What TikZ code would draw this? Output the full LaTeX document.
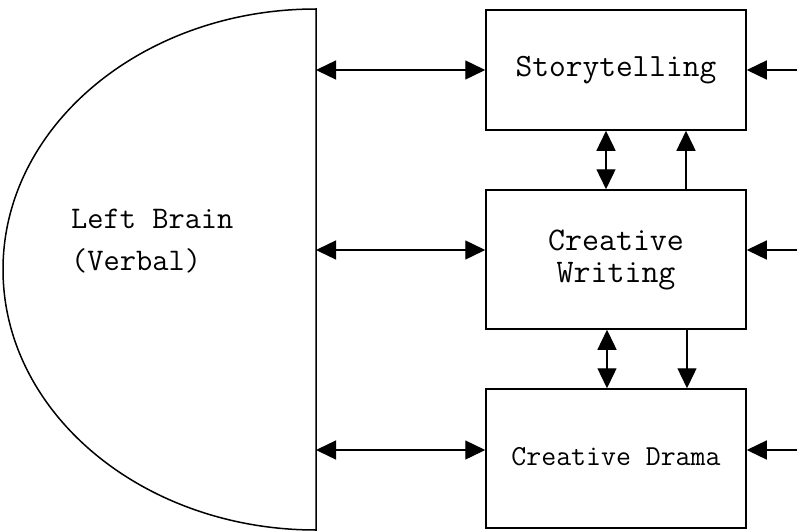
\documentclass[tikz,border=0pt]{standalone}
\usepackage{fontspec}
\usetikzlibrary{arrows.meta}
\begin{document}
\begin{tikzpicture}[x=1pt,y=-1pt,
  box/.style={draw, line width=1.5pt, inner sep=0pt, minimum width=260pt, align=center},
  arr/.style={line width=1.4pt, -{Triangle[length=20pt,width=19pt]}},
  darr/.style={line width=1.4pt, {Triangle[length=20pt,width=19pt]}-{Triangle[length=20pt,width=19pt]}},
  lbl/.style={anchor=base west, inner sep=0pt, font=\ttfamily\fontsize{31.5}{32}\selectfont}]
\useasboundingbox (0,0) rectangle (797,532);
% left half-ellipse
\draw[line width=1.5pt] (316,9) arc[start angle=90, end angle=270, x radius=313pt, y radius=260.5pt] -- cycle;
\node[lbl] (lb1) at (71,228) {Left Brain};
\node[lbl] (lb2) at (71,270) {(Verbal)};
% boxes
\node[box, minimum height=120pt, font=\ttfamily\fontsize{32.5}{32}\selectfont] (st) at (616,70) {\raisebox{-2pt}{Storytelling}};
\node[box, minimum height=139pt, font=\ttfamily\fontsize{33}{32}\selectfont] (wr) at (616,259.5) {Creative\\Writing};
\node[box, minimum height=139pt, font=\ttfamily\fontsize{29}{30}\selectfont] (dr) at (616,458.5) {\raisebox{4pt}{Creative Drama}};
% coordinates on the brain edge
\coordinate (b1) at (316,70);
\coordinate (b2) at (316,250);
\coordinate (b3) at (316,450);
% right free ends
\coordinate (r1) at (800,70);
\coordinate (r2) at (800,250);
\coordinate (r3) at (800,450);
% horizontal arrows
\draw[darr] (b1) -- (st.west |- b1);
\draw[darr] (b2) -- (wr.west |- b2);
\draw[darr] (b3) -- (dr.west |- b3);
\draw[arr] (r1) -- (st.east |- r1);
\draw[arr] (r2) -- (wr.east |- r2);
\draw[arr] (r3) -- (dr.east |- r3);
% vertical arrows
\draw[darr] ([xshift=-10pt]st.south) -- ([xshift=-10pt]wr.north);
\draw[arr] ([xshift=70pt]wr.north) -- ([xshift=70pt]st.south);
\draw[darr] ([xshift=-9pt]wr.south) -- ([xshift=-9pt]dr.north);
\draw[arr] ([xshift=71pt]wr.south) -- ([xshift=71pt]dr.north);
\end{tikzpicture}
\end{document}
